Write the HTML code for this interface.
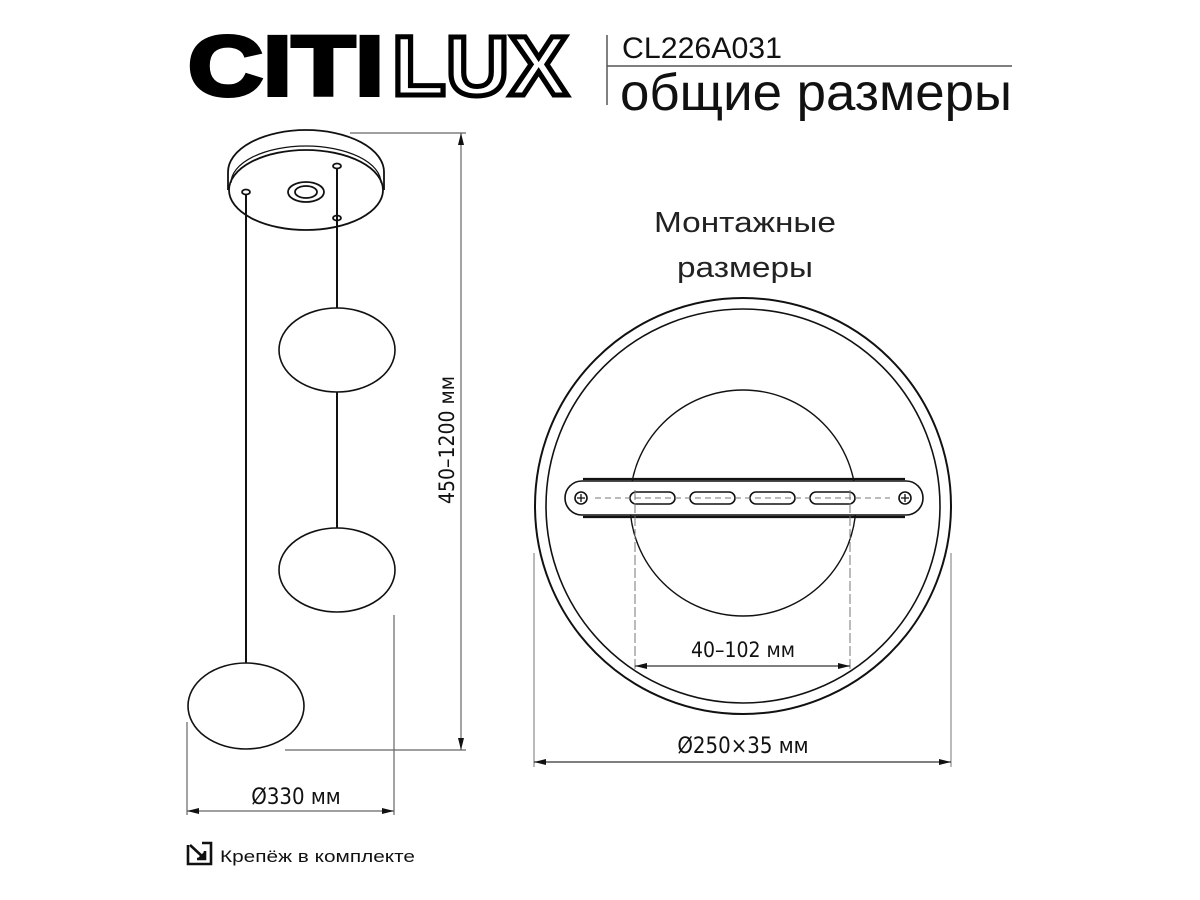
<!DOCTYPE html>
<html><head><meta charset="utf-8"><style>
html,body{margin:0;padding:0;background:#fff;}
svg{display:block}
text{font-family:"DejaVu Sans Condensed","DejaVu Sans","Liberation Sans",sans-serif;}
</style></head><body>
<svg width="1200" height="900" viewBox="0 0 1200 900" xmlns="http://www.w3.org/2000/svg">
<defs>
<marker id="a" viewBox="0 0 12 6" refX="12" refY="3" markerWidth="12" markerHeight="6" orient="auto-start-reverse" markerUnits="userSpaceOnUse"><path d="M0,0 L12,3 L0,6z" fill="#111"/></marker>
</defs>
<!-- Title -->
<text x="188" y="95" font-weight="bold" font-size="84" fill="#000" stroke="#000" stroke-width="4" textLength="196" lengthAdjust="spacingAndGlyphs" style="font-family:'Liberation Sans Narrow','Liberation Sans',sans-serif">CITI</text>
<text x="392" y="95" font-weight="bold" font-size="84" fill="#fff" stroke="#000" stroke-width="5" textLength="176" lengthAdjust="spacingAndGlyphs" style="font-family:'Liberation Sans Narrow','Liberation Sans',sans-serif">LUX</text>
<line x1="607" y1="35" x2="607" y2="105" stroke="#555" stroke-width="1.5"/>
<line x1="607" y1="66" x2="1012" y2="66" stroke="#555" stroke-width="1.5"/>
<text x="622" y="58" font-size="30" fill="#111" textLength="160" lengthAdjust="spacingAndGlyphs" style="font-family:'Liberation Sans Narrow','Liberation Sans',sans-serif">CL226A031</text>
<text x="620" y="110" font-size="52" fill="#111" textLength="392" lengthAdjust="spacingAndGlyphs" style="font-family:'Liberation Sans Narrow','Liberation Sans',sans-serif">общие размеры</text>

<!-- Canopy -->
<g fill="none" stroke="#111" stroke-width="1.8">
<path d="M228,172 A78,42 0 0 1 384,172 L384,190 M228,172 L228,190"/>
<ellipse cx="306" cy="190" rx="77" ry="40" fill="#fff"/>
<path d="M231,183 A75,37 0 0 1 381,183" stroke-width="1.2"/>
<ellipse cx="306" cy="192" rx="18" ry="10"/>
<ellipse cx="306" cy="192" rx="11" ry="6"/>
<ellipse cx="246" cy="192" rx="4" ry="2.5"/>
<ellipse cx="337" cy="166" rx="4" ry="2.5"/>
<ellipse cx="337" cy="218" rx="4" ry="2.5"/>
</g>
<g stroke="#111" stroke-width="2">
<line x1="246" y1="194" x2="246" y2="663"/>
<line x1="337" y1="168" x2="337" y2="308"/>
<line x1="337" y1="392" x2="337" y2="528"/>
</g>
<g fill="#fff" stroke="#111" stroke-width="1.6">
<ellipse cx="337" cy="350" rx="58" ry="42"/>
<ellipse cx="337" cy="570" rx="58" ry="42"/>
<ellipse cx="246" cy="706" rx="58" ry="43"/>
</g>
<!-- vertical dim -->
<g stroke="#666" stroke-width="1.2" fill="none">
<line x1="350" y1="133" x2="466" y2="133"/>
<line x1="285" y1="750" x2="466" y2="750"/>
<line x1="461" y1="133" x2="461" y2="750" marker-start="url(#a)" marker-end="url(#a)"/>
<line x1="187" y1="722" x2="187" y2="815"/>
<line x1="394" y1="615" x2="394" y2="815"/>
<line x1="187" y1="811" x2="394" y2="811" marker-start="url(#a)" marker-end="url(#a)"/>
</g>
<text transform="translate(454,440) rotate(-90)" text-anchor="middle" font-size="21" fill="#111">450–1200 мм</text>
<text x="296" y="804" text-anchor="middle" font-size="22" fill="#111">Ø330 мм</text>

<!-- fastener icon -->
<g stroke="#111" stroke-width="2.6" fill="none">
<path d="M188,845 L188,864 L211,864 L211,843 L202,843"/>
<line x1="190" y1="845" x2="204" y2="858"/>
<path d="M197,859 L205,859 L205,851" fill="#111"/>
</g>
<text x="220" y="862" font-size="17" fill="#111" textLength="195" lengthAdjust="spacingAndGlyphs" style="font-family:'Liberation Sans',sans-serif">Крепёж в комплекте</text>

<!-- Right -->
<text x="745" y="232" text-anchor="middle" font-size="29" fill="#222" textLength="182" lengthAdjust="spacingAndGlyphs" style="font-family:'Liberation Sans Narrow','Liberation Sans',sans-serif">Монтажные</text>
<text x="745" y="277" text-anchor="middle" font-size="29" fill="#222" textLength="136" lengthAdjust="spacingAndGlyphs" style="font-family:'Liberation Sans Narrow','Liberation Sans',sans-serif">размеры</text>
<g fill="none" stroke="#111" stroke-width="2">
<circle cx="743" cy="506" r="208"/>
<circle cx="743" cy="506" r="197" stroke-width="1.6"/>
<circle cx="743" cy="503" r="113" stroke-width="1.4"/>
</g>
<g stroke="#111" stroke-width="1.6">
<rect x="565" y="481" width="358" height="34" rx="17" fill="#fff"/>
<line x1="583" y1="479" x2="905" y2="479" stroke-width="2.2"/>
<line x1="583" y1="517" x2="905" y2="517" stroke-width="2.2"/>
<g fill="#fff">
<rect x="630" y="492" width="45" height="12" rx="6"/>
<rect x="690" y="492" width="45" height="12" rx="6"/>
<rect x="750" y="492" width="45" height="12" rx="6"/>
<rect x="810" y="492" width="45" height="12" rx="6"/>
<circle cx="581" cy="498" r="6"/>
<circle cx="905" cy="498" r="6"/>
</g>
<path d="M577,498h8M581,494v8M901,498h8M905,494v8" stroke-width="1.3"/>
</g>
<line x1="595" y1="498" x2="890" y2="498" stroke="#777" stroke-width="1" stroke-dasharray="6,4"/>
<g stroke="#777" stroke-width="1" fill="none">
<line x1="635" y1="490" x2="635" y2="670" stroke-dasharray="10,3"/>
<line x1="850" y1="490" x2="850" y2="670" stroke-dasharray="10,3"/>
<line x1="534" y1="553" x2="534" y2="767"/>
<line x1="951" y1="553" x2="951" y2="767"/>
</g>
<line x1="635" y1="666" x2="850" y2="666" stroke="#333" stroke-width="1.2" marker-start="url(#a)" marker-end="url(#a)"/>
<line x1="534" y1="762" x2="951" y2="762" stroke="#333" stroke-width="1.2" marker-start="url(#a)" marker-end="url(#a)"/>
<text x="743" y="657" text-anchor="middle" font-size="21" fill="#111">40–102 мм</text>
<text x="743" y="753" text-anchor="middle" font-size="22" fill="#111">Ø250×35 мм</text>
</svg>
</body></html>
